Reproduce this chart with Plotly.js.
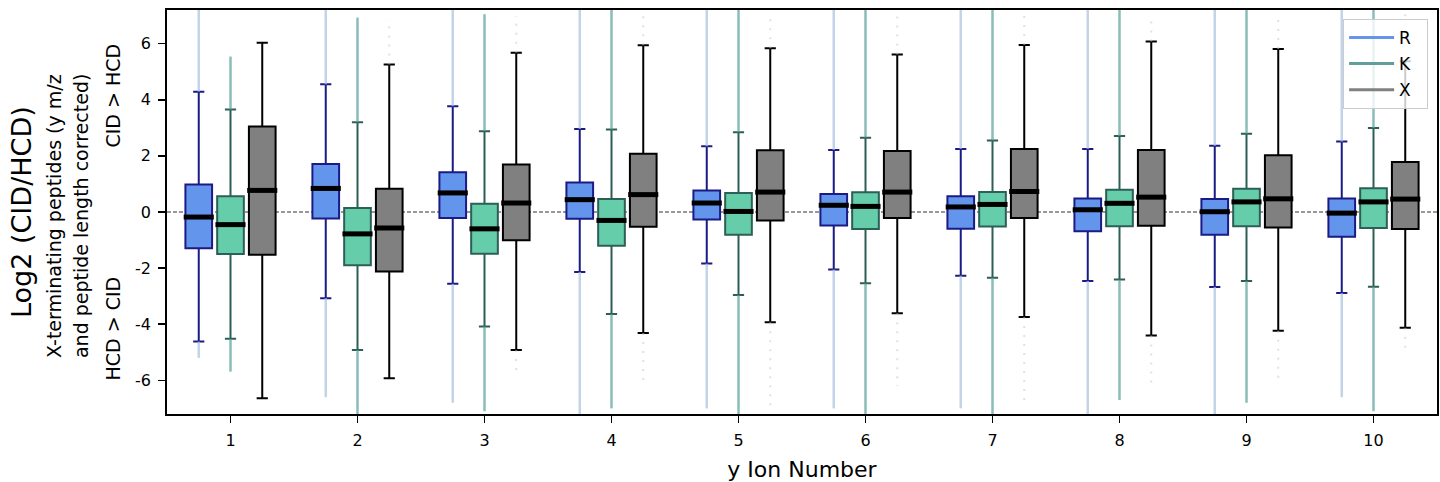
<!DOCTYPE html>
<html>
<head>
<meta charset="utf-8">
<script src="https://cdn.plot.ly/plotly-3.0.1.min.js"></script>
<style>html,body{margin:0;padding:0;background:#fff;}#chart{width:1440px;height:482px;}</style>
</head>
<body>
<div id="chart"></div>
<script>
// ---------- data ----------
const ions = [1, 2, 3, 4, 5, 6, 7, 8, 9, 10];
const seriesNames = ['R', 'K', 'X'];

const R_hi  = [4.29, 4.55, 3.77, 2.96, 2.34, 2.21, 2.25, 2.25, 2.36, 2.51];
const R_q3  = [0.98, 1.71, 1.42, 1.05, 0.77, 0.64, 0.56, 0.48, 0.46, 0.48];
const R_med = [-0.18, 0.84, 0.68, 0.44, 0.32, 0.24, 0.18, 0.08, 0.01, -0.04];
const R_q1  = [-1.29, -0.23, -0.21, -0.24, -0.27, -0.48, -0.60, -0.69, -0.81, -0.88];
const R_lo  = [-4.62, -3.07, -2.56, -2.14, -1.84, -2.05, -2.27, -2.46, -2.67, -2.89];
const R_outHi = [7.2, 7.2, 7.2, 7.2, 7.2, 7.2, 7.2, 7.2, 7.2, 7.2];
const R_outLo = [-5.2, -6.6, -6.8, -7.2, -7.0, -7.0, -7.0, -7.2, -7.2, -6.6];

const K_hi  = [3.65, 3.20, 2.88, 2.94, 2.84, 2.65, 2.55, 2.71, 2.79, 2.99];
const K_q3  = [0.56, 0.14, 0.29, 0.46, 0.68, 0.70, 0.71, 0.79, 0.83, 0.85];
const K_med = [-0.45, -0.78, -0.60, -0.30, 0.02, 0.20, 0.27, 0.31, 0.36, 0.36];
const K_q1  = [-1.50, -1.90, -1.49, -1.20, -0.81, -0.61, -0.52, -0.51, -0.51, -0.57];
const K_lo  = [-4.52, -4.92, -4.08, -3.64, -2.96, -2.54, -2.34, -2.41, -2.46, -2.66];
const K_outHi = [5.54, 6.93, 7.05, 7.2, 7.2, 7.2, 7.2, 7.2, 7.2, 7.2];
const K_outLo = [-5.69, -7.2, -7.1, -7.0, -7.2, -7.2, -7.2, -6.7, -6.8, -7.1];

const X_hi  = [6.03, 5.26, 5.68, 5.94, 5.84, 5.61, 5.95, 6.08, 5.81, 5.37];
const X_q3  = [3.05, 0.83, 1.69, 2.08, 2.20, 2.17, 2.25, 2.21, 2.02, 1.78];
const X_med = [0.77, -0.57, 0.32, 0.62, 0.71, 0.71, 0.73, 0.53, 0.47, 0.46];
const X_q1  = [-1.52, -2.12, -1.01, -0.53, -0.30, -0.21, -0.21, -0.49, -0.55, -0.61];
const X_lo  = [-6.64, -5.93, -4.92, -4.31, -3.93, -3.61, -3.74, -4.40, -4.23, -4.13];
const X_outHi = [null, 6.87, 6.98, 7.1, 6.9, 7.0, 7.0, 7.0, 7.0, 7.1];
const X_outLo = [null, null, -5.8, -6.2, -7.0, -6.2, -6.9, -6.2, -6.1, -5.0];

const xTickLabels = ['1', '2', '3', '4', '5', '6', '7', '8', '9', '10'];
const yTickVals = [-6, -4, -2, 0, 2, 4, 6];

// ---------- styles ----------
const FONT = 'DejaVu Sans, sans-serif';
const OFFSETS = [-0.25, 0, 0.25];
const BOX_W = 0.21;
const styles = [
  {fill: '#6495ED', line: '#1b1b86', out: 'rgba(170,192,222,0.7)', outDash: 'solid', outW: 2.5, legend: '#6495ED'},
  {fill: '#66CDAA', line: '#2c5f56', out: 'rgba(88,160,155,0.7)', outDash: 'solid', outW: 2.5, legend: '#5f9e99'},
  {fill: '#808080', line: '#000000', out: 'rgba(200,200,200,0.55)', outDash: '2px,7px', outW: 2, legend: '#808080'}
];
const stats = [
  {hi: R_hi, q3: R_q3, med: R_med, q1: R_q1, lo: R_lo, outHi: R_outHi, outLo: R_outLo},
  {hi: K_hi, q3: K_q3, med: K_med, q1: K_q1, lo: K_lo, outHi: K_outHi, outLo: K_outLo},
  {hi: X_hi, q3: X_q3, med: X_med, q1: X_q1, lo: X_lo, outHi: X_outHi, outLo: X_outLo}
];

const traces = [];
// outlier bands
stats.forEach((s, i) => {
  const xs = [], ys = [];
  ions.forEach((n, j) => {
    const p = n + OFFSETS[i];
    if (s.outHi[j] !== null) { xs.push(p, p, null); ys.push(s.hi[j], s.outHi[j], null); }
    if (s.outLo[j] !== null) { xs.push(p, p, null); ys.push(s.lo[j], s.outLo[j], null); }
  });
  traces.push({type: 'scatter', mode: 'lines', x: xs, y: ys, showlegend: false, hoverinfo: 'skip',
    line: {color: styles[i].out, width: styles[i].outW, dash: styles[i].outDash}});
});
// boxes
stats.forEach((s, i) => {
  traces.push({
    type: 'box', orientation: 'v', name: seriesNames[i], showlegend: false,
    x: ions.map(n => n + OFFSETS[i]),
    q1: s.q1, median: s.med, q3: s.q3, lowerfence: s.lo, upperfence: s.hi,
    width: BOX_W, whiskerwidth: 0.42, boxpoints: false,
    fillcolor: styles[i].fill, line: {color: styles[i].line, width: 2}
  });
});
// medians
stats.forEach((s, i) => {
  traces.push({type: 'scatter', mode: 'markers', showlegend: false, hoverinfo: 'skip',
    x: ions.map(n => n + OFFSETS[i]), y: s.med,
    marker: {symbol: 'line-ew', size: 21.5, color: '#000', line: {width: 5, color: '#000'}}});
});
// legend entries
seriesNames.forEach((nm, i) => {
  traces.push({type: 'scatter', mode: 'lines', x: [null], y: [null], name: nm + '\u00a0\u00a0', legendgroup: nm,
    line: {color: styles[i].legend, width: 3}});
});

const axisCommon = {
  showline: true, mirror: true, linecolor: '#000', linewidth: 1.8,
  ticks: 'outside', ticklen: 7, tickwidth: 1.5, tickcolor: '#000', ticklabelstandoff: 4,
  showgrid: false, zeroline: false, tickfont: {family: FONT, size: 16, color: '#000'}
};

const layout = {
  width: 1440, height: 482,
  margin: {l: 167, r: 3, t: 10, b: 68},
  paper_bgcolor: '#fff', plot_bgcolor: '#fff',
  font: {family: FONT, color: '#000'},
  boxmode: 'overlay',
  xaxis: Object.assign({}, axisCommon, {
    range: [0.5, 10.5], tickmode: 'array', tickvals: ions, ticktext: xTickLabels,
    title: {text: 'y Ion Number', font: {family: FONT, size: 22, color: '#000'}, standoff: 18}
  }),
  yaxis: Object.assign({}, axisCommon, {
    range: [-7.2, 7.2], tickmode: 'array', tickvals: yTickVals, ticktext: yTickVals.map(String)
  }),
  showlegend: true,
  legend: {x: 0.993, xanchor: 'right', y: 0.978, yanchor: 'top', itemwidth: 45,
    bgcolor: 'rgba(255,255,255,0.8)', bordercolor: '#cccccc', borderwidth: 1,
    font: {family: FONT, size: 17, color: '#000'}, tracegroupgap: 1},
  shapes: [{type: 'line', xref: 'paper', x0: 0, x1: 1, yref: 'y', y0: 0, y1: 0,
    line: {color: '#333', width: 1, dash: '4px,2px'}, layer: 'below'}],
  annotations: [
    {text: 'Log2 (CID/HCD)', xref: 'paper', x: 0, xshift: -146, xanchor: 'center', yref: 'paper', y: 0.5, yanchor: 'middle',
      textangle: -90, showarrow: false, font: {family: FONT, size: 27, color: '#000'}},
    {text: 'X-terminating peptides (y m/z', xref: 'paper', x: 0, xshift: -113, xanchor: 'center', yref: 'paper', y: 0.49, yanchor: 'middle',
      textangle: -90, showarrow: false, font: {family: FONT, size: 19, color: '#000'}},
    {text: 'and peptide length corrected)', xref: 'paper', x: 0, xshift: -86, xanchor: 'center', yref: 'paper', y: 0.49, yanchor: 'middle',
      textangle: -90, showarrow: false, font: {family: FONT, size: 19, color: '#000'}},
    {text: 'CID > HCD', xref: 'paper', x: 0, xshift: -54, xanchor: 'center', yref: 'y', y: 4.15, yanchor: 'middle',
      textangle: -90, showarrow: false, font: {family: FONT, size: 19, color: '#000'}},
    {text: 'HCD > CID', xref: 'paper', x: 0, xshift: -54, xanchor: 'center', yref: 'y', y: -4.15, yanchor: 'middle',
      textangle: -90, showarrow: false, font: {family: FONT, size: 19, color: '#000'}}
  ]
};

Plotly.newPlot('chart', traces, layout, {staticPlot: true, displayModeBar: false});
</script>
</body>
</html>
